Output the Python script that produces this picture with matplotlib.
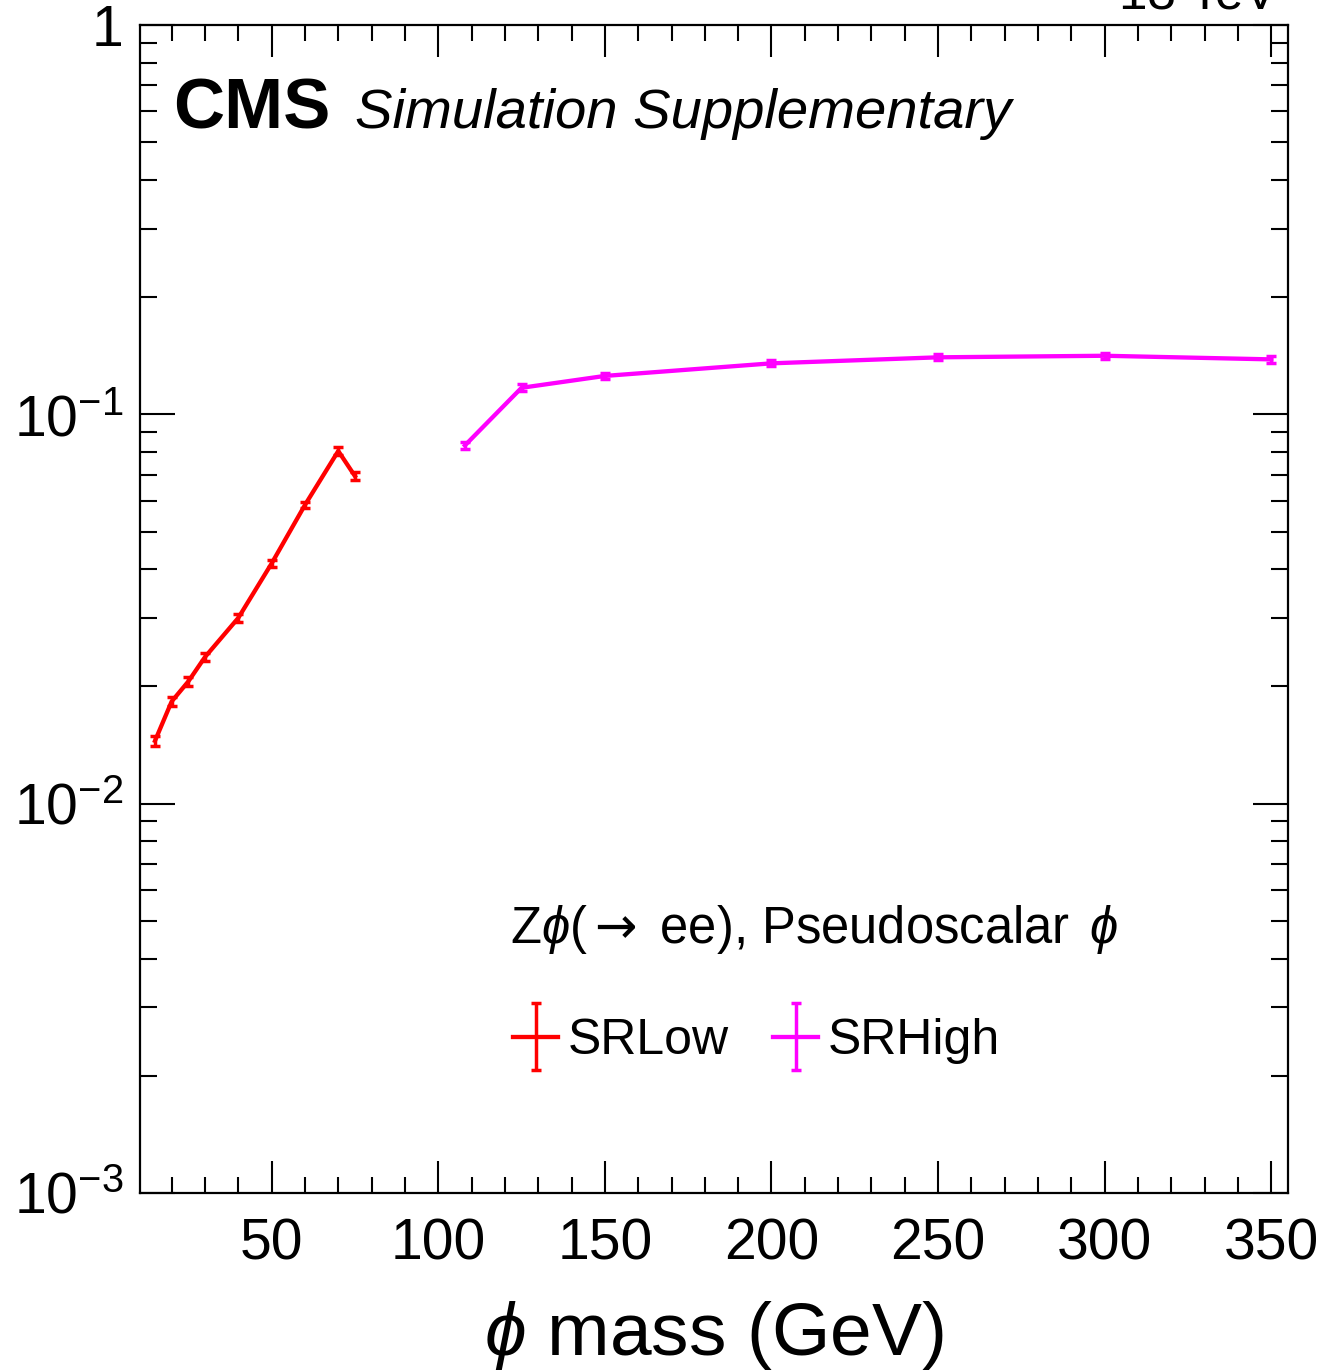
import matplotlib
matplotlib.use("Agg")
import matplotlib.pyplot as plt
from matplotlib.ticker import MultipleLocator, LogLocator, NullFormatter
from matplotlib.container import ErrorbarContainer
from matplotlib.legend_handler import HandlerErrorbar

plt.rcParams['font.family'] = ['Liberation Sans', 'DejaVu Sans']
plt.rcParams['mathtext.fontset'] = 'custom'
plt.rcParams['mathtext.rm'] = 'Liberation Sans'
plt.rcParams['mathtext.it'] = 'Liberation Sans:italic'
plt.rcParams['mathtext.bf'] = 'Liberation Sans:bold'
plt.rcParams['mathtext.sf'] = 'DejaVu Sans'
plt.rcParams['mathtext.fallback'] = 'cm'

# ---- data ----
low_mass = [15, 20, 25, 30, 40, 50, 60, 70, 75]
low_eff = [0.0145, 0.0183, 0.0206, 0.0238, 0.0300, 0.0414, 0.0585, 0.0805, 0.0694]
low_err = [0.0004, 0.0005, 0.0005, 0.0006, 0.0007, 0.0009, 0.0012, 0.0017, 0.0016]

high_mass = [108, 125, 150, 200, 250, 300, 350]
high_eff = [0.0832, 0.1170, 0.1255, 0.1352, 0.1401, 0.1414, 0.1384]
high_err = [0.0019, 0.0024, 0.0025, 0.0025, 0.0026, 0.0026, 0.0026]

ytick_vals = [1e-3, 1e-2, 1e-1, 1]
ytick_labels = [r'$10^{-3}$', r'$10^{-2}$', r'$10^{-1}$', '1']
xtick_vals = [50, 100, 150, 200, 250, 300, 350]

fig = plt.figure(figsize=(13.24, 13.70), dpi=100)
ax = fig.add_axes([140/1324, 1 - 1193/1370, 1148/1324, 1168/1370])

e1 = ax.errorbar(low_mass, low_eff, yerr=low_err, color='#ff0000', lw=3.1,
                 capsize=3.5, capthick=2.5, elinewidth=2.5, label='SRLow')
e2 = ax.errorbar(high_mass, high_eff, yerr=high_err, color='#ff00ff', lw=3.1,
                 capsize=3.5, capthick=2.5, elinewidth=2.5, label='SRHigh')

ax.set_yscale('log')
ax.set_ylim(1e-3, 1)
ax.set_xlim(10.5, 355)

ax.set_xticks(xtick_vals)
ax.set_xticklabels([str(v) for v in xtick_vals])
ax.xaxis.set_minor_locator(MultipleLocator(10))
ax.set_yticks(ytick_vals)
ax.set_yticklabels(ytick_labels)
ax.yaxis.set_minor_locator(LogLocator(base=10, subs=range(2, 10)))
ax.yaxis.set_minor_formatter(NullFormatter())

ax.tick_params(axis='both', which='both', direction='in', top=True, right=True,
               width=1.5, colors='black')
ax.tick_params(axis='x', which='major', length=23, labelsize=41, pad=18)
ax.tick_params(axis='x', which='minor', length=11.5)
ax.tick_params(axis='y', which='major', length=25, labelsize=41, pad=12)
ax.tick_params(axis='y', which='minor', length=12)
for s in ax.spines.values():
    s.set_linewidth(1.6)

ax.set_xlabel(r'$\phi$ mass (GeV)', fontsize=54, va='baseline')
ax.xaxis.set_label_coords(0.5, (1193 - 1355) / 1168)

ax.text(0.0287, 0.9118, 'CMS', transform=ax.transAxes, fontsize=51,
        fontweight='bold', va='baseline', ha='left')
ax.text(0.1873, 0.9118, 'Simulation Supplementary', transform=ax.transAxes,
        fontsize=40.5, style='italic', va='baseline', ha='left')

fig.text(1278/1324, 1 - 10/1370, '13 TeV', fontsize=37, ha='right', va='baseline')

ax.text(0.3223, 0.214, r'Z$\phi$($\mathsf{\rightarrow}$ ee), Pseudoscalar $\,\phi$',
        transform=ax.transAxes, fontsize=36.5, va='baseline', ha='left')

leg = ax.legend(handles=[e1, e2], ncol=2, frameon=False, fontsize=36,
                loc='center left', bbox_to_anchor=(0.325, 0.1300),
                borderpad=0, borderaxespad=0, handlelength=0.9,
                handletextpad=0.2, columnspacing=0.88,
                handler_map={ErrorbarContainer: HandlerErrorbar(xerr_size=0.67)})

fig.savefig('out.png', dpi=100)
